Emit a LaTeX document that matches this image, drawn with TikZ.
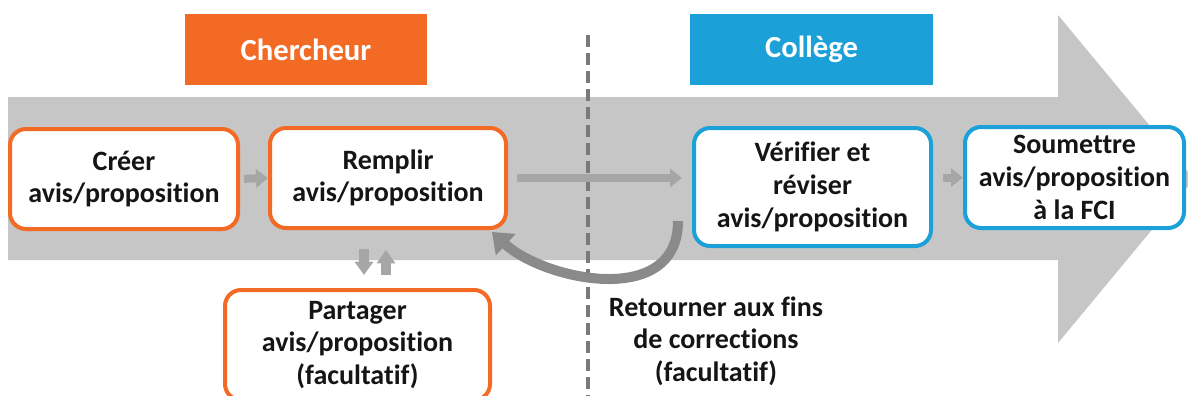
\documentclass[tikz,border=0pt]{standalone}
\usepackage{fontspec}
\setmainfont{Carlito}[Ligatures={NoCommon}]
\usetikzlibrary{arrows.meta}
\definecolor{orng}{HTML}{F26A24}
\definecolor{blu}{HTML}{1CA0D8}
\definecolor{bandgrey}{HTML}{C6C6C6}
\definecolor{flowgrey}{HTML}{A6A6A6}
\definecolor{retgrey}{HTML}{8A8A8A}
\definecolor{dashgrey}{HTML}{7A7A7A}
\definecolor{txt}{HTML}{151515}
\begin{document}
\begin{tikzpicture}[x=0.75pt,y=-0.75pt,
  box/.style={draw, line width=3pt, fill=white, rounded corners=12pt, align=center,
    text=txt, font=\bfseries\fontsize{21}{24.5}\selectfont, inner sep=0pt},
  obox/.style={box, draw=orng},
  bbox/.style={box, draw=blu},
  header/.style={minimum height=53.25pt, inner sep=0pt, text=white,
    font=\bfseries\fontsize{23}{27}\selectfont},
  flowarrow/.style={draw=flowgrey, line width=6pt, -{Triangle[width=13.5pt,length=9pt]}},
  vflow/.style={draw=flowgrey, line width=7pt, -{Triangle[width=13.5pt,length=10pt]}},
  retarrow/.style={draw=retgrey, line width=7.5pt, -{Triangle[width=21pt,length=14pt]}},
  label/.style={align=center, text=txt, font=\bfseries\fontsize{21}{24.5}\selectfont, inner sep=0pt}]
\path[use as bounding box, clip] (0,0) rectangle (1188,396);

% big grey arrow
\fill[bandgrey] (8,97) -- (1058,97) -- (1058,15) -- (1194,179) -- (1058,343) -- (1058,260) -- (8,260) -- cycle;

% headers
\node[header, fill=orng, minimum width=181.5pt] (hch) at (306,49.5) {Chercheur};
\node[header, fill=blu, minimum width=182.25pt] (hco) at (811.5,49.5) {Collège};

% dashed separator
\coordinate (d0) at (588,35);
\coordinate (d1) at (588,396);
\draw[dashgrey, line width=2.6pt, dash pattern=on 9pt off 4.5pt] (d0) -- (d1);

% boxes
\node[obox, minimum width=171pt, minimum height=75pt] (creer) at (124,179) {Créer\\avis/proposition};
\node[obox, minimum width=177pt, minimum height=75pt] (remplir) at (388,178) {Remplir\\avis/proposition};
\node[obox, minimum width=198.75pt, minimum height=82.5pt] (partager) at (357.5,345) {Partager\\avis/proposition\\(facultatif)};
\node[bbox, minimum width=177.75pt, minimum height=88.5pt] (verifier) at (812.5,187) {Vérifier et\\réviser\\avis/proposition};
\node[bbox, minimum width=164.25pt, minimum height=75.75pt] (soumettre) at (1074.5,177.5) {Soumettre\\avis/proposition\\à la FCI};

% return arrow
\draw[retarrow] ([xshift=-10.5pt,yshift=-25.5pt]verifier.west) .. controls +(0,88) and +(52,48) .. ([xshift=-12pt,yshift=-1.5pt]remplir.south east);

% label
\node[label] (retourner) at (716,341) {Retourner aux fins\\de corrections\\(facultatif)};

% flow arrows
\draw[flowarrow, shorten <=3pt] (creer.east) -- (remplir.west);
\draw[flowarrow, shorten <=6.75pt, shorten >=7.5pt] (remplir.east) -- (verifier.west |- remplir.east);
\draw[flowarrow, shorten <=7.5pt] (verifier.east |- soumettre.west) -- (soumettre.west);

% up/down arrows
\draw[vflow] ([xshift=-18pt,yshift=-14.25pt]remplir.south) -- ([xshift=4.875pt,yshift=9.75pt]partager.north);
\draw[vflow] ([xshift=21.375pt,yshift=9.75pt]partager.north) -- ([xshift=-1.5pt,yshift=-15pt]remplir.south);
\end{tikzpicture}
\end{document}
